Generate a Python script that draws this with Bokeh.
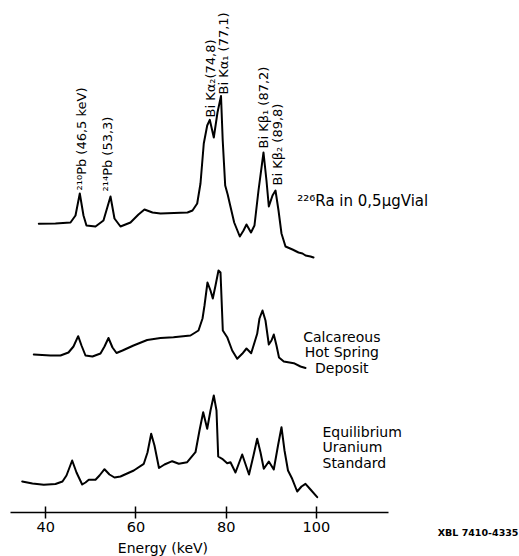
import math
from bokeh.plotting import figure
from bokeh.models import Range1d, FixedTicker, ColumnDataSource
from bokeh.core.properties import value
from bokeh.embed import file_html
from bokeh.resources import INLINE

FONT = "DejaVu Sans"

# ---------------- data (energy in keV, relative counts) ----------------
ra_energy = [38.45, 42.15, 45.48, 46.59, 47.54, 48.36, 49.02, 51.02, 52.79, 54.35,
             55.23, 56.56, 58.78, 60.55, 61.88, 63.66, 65.43, 71.42, 72.53, 73.57,
             74.30, 75.03, 75.79, 76.36, 77.25, 78.07, 78.85, 79.23, 79.78, 80.33,
             80.89, 81.77, 83.02, 83.84, 84.50, 85.50, 86.27, 87.16, 88.27, 88.93,
             89.45, 90.27, 90.93, 91.60, 92.26, 93.15, 94.70, 96.03, 96.92, 97.59,
             98.70, 99.36]
ra_counts = [38.7, 39, 40, 47, 69, 47, 37, 36, 42, 66,
             44, 36, 40, 48, 53, 50, 49, 50, 52, 59,
             79, 119, 137, 142.7, 125, 150, 166.5, 122, 77, 68,
             57, 40, 26, 32, 38, 30, 37, 72, 110, 82,
             56, 67, 72, 52, 29, 16, 13, 10, 9, 7,
             6, 5]

hs_energy = [37.34, 41.04, 43.26, 45.03, 46.14, 47.18, 47.92, 48.80, 50.35, 52.13,
             53.02, 53.90, 54.79, 55.68, 57.01, 59.45, 62.48, 65.43, 68.31, 72.08,
             73.86, 74.75, 75.19, 75.85, 76.52, 77.03, 77.63, 78.29, 78.74, 79.25,
             80.22, 81.33, 82.44, 83.55, 84.50, 85.54, 86.87, 87.38, 88.05, 88.71,
             89.45, 90.04, 90.55, 91.15, 91.71, 92.77, 94.99, 96.47, 97.58]
hs_counts = [18, 17, 17, 20, 26, 36.3, 27, 17, 16, 19,
             26, 34.5, 25, 19.5, 22, 27, 32.5, 34.5, 35.3, 37,
             42, 54, 67, 90, 82, 74, 87, 102, 100, 42,
             35.3, 22, 13.7, 18.7, 24, 19.3, 38.7, 54, 62, 52,
             28, 32, 38, 27, 15, 11, 9.3, 6, 4.5]

u_energy = [34.77, 37.05, 39.56, 42.15, 43.70, 44.59, 45.85, 46.81, 48.07, 48.80,
            49.53, 51.02, 51.91, 53.02, 54.12, 55.23, 56.56, 59.51, 61.73, 62.55,
            63.37, 64.10, 65.10, 66.32, 68.03, 69.49, 71.35, 73.19, 74.08, 74.90,
            75.79, 76.52, 77.25, 77.85, 78.23, 79.11, 80.22, 80.95, 82.06, 83.55,
            85.06, 86.05, 86.87, 87.61, 88.34, 89.45, 90.55, 91.49, 92.26, 92.93,
            93.70, 94.63, 95.74, 96.70, 97.58, 98.69, 100.18]
u_counts = [21, 19, 17.7, 18.5, 21, 27, 42, 30, 18, 20,
            22.7, 22.7, 27, 33.3, 28, 25, 26, 32, 38.7, 50,
            68.7, 57, 34.5, 38, 41.3, 38.7, 40.3, 50.3, 72, 90.3,
            73.7, 92, 107, 92, 46, 43.7, 39.3, 40.3, 30, 48,
            28, 47, 63.7, 50, 33.7, 41, 33, 57, 75.3, 52,
            32, 23.7, 11, 16, 18.7, 13, 5.3]

# vertical stacking offsets of the three spectra
offset_ra = 250
offset_hs = 140
offset_u = 10

tick_values = [40, 60, 80, 100]

peak_labels = ["²¹⁰Pb (46,5 keV)", "²¹⁴Pb (53,3)", "Bi  Kα₂(74,8)",
               "Bi Kα₁ (77,1)", "Bi Kβ₁ (87,2)", "Bi Kβ₂ (89,8)"]
peak_label_x = [47.92, 53.70, 76.56, 79.40, 88.38, 91.37]
peak_label_y = [322, 321, 395, 418, 364, 327]

# ---------------- figure ----------------
p = figure(width=519, height=556, output_backend="svg", toolbar_location=None,
           x_range=Range1d(29.96, 145.03), y_range=Range1d(-44, 512),
           y_axis_location=None, min_border_left=0, min_border_right=0,
           min_border_top=0, min_border_bottom=0)
p.outline_line_color = None
p.xgrid.grid_line_color = None
p.ygrid.grid_line_color = None
p.background_fill_color = "white"
p.border_fill_color = "white"

for e, c, off in [(ra_energy, ra_counts, offset_ra),
                  (hs_energy, hs_counts, offset_hs),
                  (u_energy, u_counts, offset_u)]:
    src = ColumnDataSource(dict(x=e, y=[v + off for v in c]))
    p.line("x", "y", source=src, line_color="black", line_width=2,
           line_join="round", line_cap="round")

ax = p.xaxis[0]
ax.fixed_location = 0
ax.ticker = FixedTicker(ticks=tick_values)
ax.bounds = (32.17, 115.94)
ax.major_tick_in = 6
ax.major_tick_out = 6
ax.minor_tick_line_color = None
ax.axis_line_width = 1.5
ax.axis_line_color = "black"
ax.major_tick_line_width = 1.5
ax.major_tick_line_color = "black"
ax.major_label_text_font = FONT
ax.major_label_text_font_size = "14.5px"
ax.major_label_text_color = "black"
ax.major_label_standoff = 3

# rotated peak labels
lsrc = ColumnDataSource(dict(x=peak_label_x, y=peak_label_y, t=peak_labels))
p.text("x", "y", text="t", source=lsrc, angle=math.pi / 2,
       text_align="left", text_baseline="middle",
       text_font=value(FONT), text_font_size="13px", text_color="black")

# sample labels
p.text([95.76], [312], text=["²²⁶Ra in 0,5μgVial"], text_align="left",
       text_baseline="alphabetic", text_font=value(FONT),
       text_font_size="15px", text_color="black")
p.text([105.63, 105.63, 105.63], [176, 160.5, 145],
       text=["Calcareous", "Hot Spring", "Deposit"], text_align="center",
       text_baseline="alphabetic", text_font=value(FONT),
       text_font_size="14px", text_color="black")
p.text([101.35, 101.35, 101.35], [80.3, 65.3, 49.3],
       text=["Equilibrium", "Uranium", "Standard"], text_align="left",
       text_baseline="alphabetic", text_font=value(FONT),
       text_font_size="14px", text_color="black")

# axis title and drawing number
p.text([65.98], [-27], text=["Energy (keV)"], text_align="center",
       text_baseline="top", text_font=value(FONT),
       text_font_size="14px", text_color="black")
p.text([144.8], [-19.7], text=["XBL 7410-4335"], text_align="right",
       text_baseline="alphabetic", text_font=value(FONT),
       text_font_style="bold", text_font_size="9.5px", text_color="black")

open("out.html", "w").write(file_html(p, INLINE))
